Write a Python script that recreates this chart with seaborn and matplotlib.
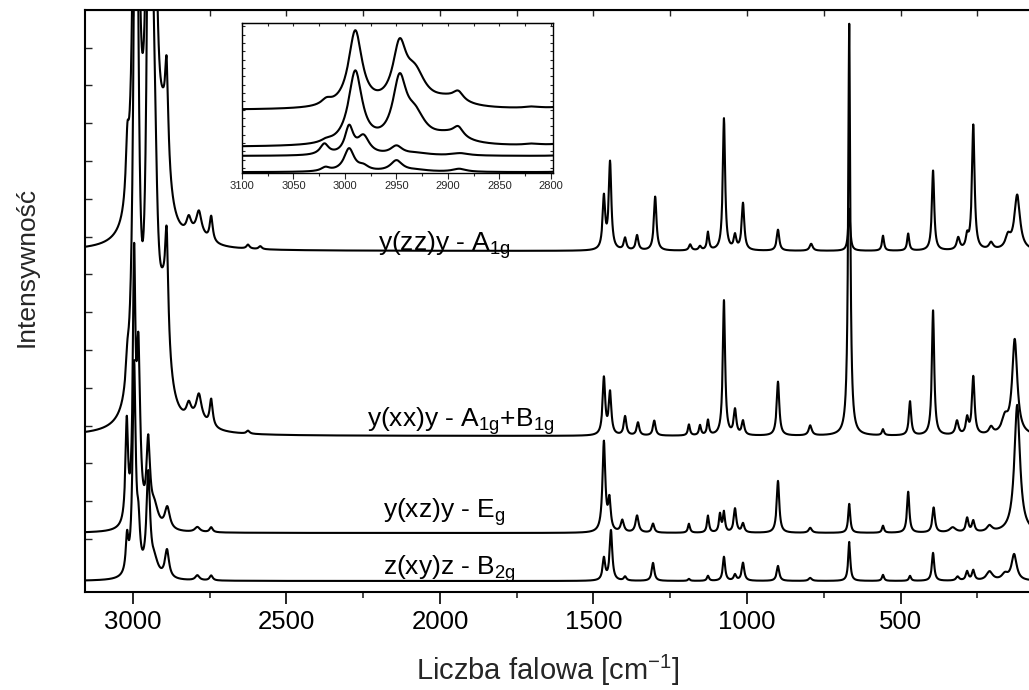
import numpy as np
import pandas as pd
import matplotlib
matplotlib.use("Agg")
import matplotlib.pyplot as plt
import seaborn as sns
from matplotlib.ticker import MultipleLocator, FixedLocator, NullFormatter

# ---------------- data ----------------
series_names = ["zz", "xx", "xz", "xy"]
series_labels = [r"y(zz)y - A$_{\mathrm{1g}}$",
                 r"y(xx)y - A$_{\mathrm{1g}}$+B$_{\mathrm{1g}}$",
                 r"y(xz)y - E$_{\mathrm{g}}$",
                 r"z(xy)z - B$_{\mathrm{2g}}$"]

# Raman bands: position [cm-1], height, half width
zz_pos = [3018, 2990, 2947, 2932, 2900, 2890, 2818, 2785, 2745, 2790, 2625, 2585,
          1466, 1446, 1397, 1358, 1299, 1185, 1153, 1127, 1075, 1039, 1013, 899, 791,
          667, 557, 475, 394, 312, 283, 263, 205, 150, 120]
zz_height = [55, 760, 560, 300, 80, 90, 15, 22, 25, 10, 4, 3,
             52, 87, 12, 15, 54, 6, 4, 18, 132, 14, 47, 21, 7,
             42, 15, 17, 80, 12, 12, 125, 7, 12, 55]
zz_width = [6, 8, 8, 12, 20, 6, 9, 10, 6, 40, 6, 6,
            5, 5, 5, 5, 5, 5, 5, 4, 4.5, 5, 5, 5, 6,
            4, 4, 4, 4.5, 6, 5, 5, 8, 10, 11]

xx_pos = [3018, 2990, 2947, 2932, 2900, 2890, 2818, 2785, 2745, 2790, 2625,
          1466, 1446, 1397, 1355, 1302, 1189, 1153, 1127, 1075, 1039, 1013, 899, 794,
          667, 557, 469, 394, 316, 283, 263, 205, 160, 128]
xx_height = [25, 730, 600, 250, 90, 100, 14, 24, 27, 10, 3,
             57, 42, 19, 13, 15, 11, 10, 15, 135, 25, 14, 54, 10,
             412, 6, 34, 125, 14, 16, 58, 7, 15, 95]
xx_width = [6, 8, 8, 12, 20, 6, 9, 10, 6, 40, 6,
            5, 5, 5, 5, 5, 4, 4, 4, 4.5, 5, 5, 5, 6,
            4, 4, 4.5, 4.5, 6, 5, 5, 8, 12, 10]

xz_pos = [3020, 2996, 2982, 2950, 2930, 2888, 2790, 2745,
          1466, 1448, 1406, 1358, 1306, 1189, 1127, 1088, 1075, 1039, 1013, 899, 794,
          667, 557, 475, 392, 330, 283, 263, 210, 120]
xz_height = [100, 250, 165, 80, 20, 22, 5, 5,
             90, 30, 12, 17, 9, 9, 17, 18, 20, 24, 9, 52, 5,
             29, 7, 41, 25, 5, 14, 11, 6, 128]
xz_width = [5, 5, 7, 7, 15, 10, 10, 6,
            5.5, 5, 6, 6, 5, 4, 4, 4, 4, 5, 5, 5, 6,
            4, 4, 4.5, 5, 12, 5, 5, 10, 11]

xy_pos = [3019, 2996, 2982, 2950, 2930, 2889, 2790, 2745,
          1466, 1443, 1397, 1306, 1189, 1127, 1075, 1039, 1013, 899, 794,
          667, 557, 469, 394, 314, 283, 263, 210, 160, 130]
xy_height = [35, 210, 40, 100, 15, 28, 5, 5,
             22, 50, 4, 18, 2, 5, 24, 6, 18, 15, 3,
             39, 6, 5, 28, 4, 9, 10, 9, 6, 26]
xy_width = [5, 6, 6, 7, 15, 8, 8, 6,
            5, 5, 5, 5, 4, 4, 4.5, 5, 5, 5, 6,
            4, 4, 4, 4.5, 6, 5, 5, 12, 12, 10]

main_offsets = [341, 156, 59, 11]
inset_offsets = [63, 26, 17, 0.8]
inset_scales = [0.100, 0.100, 0.108, 0.109]

xticks_main = [3000, 2500, 2000, 1500, 1000, 500]
xticks_inset = [3100, 3050, 3000, 2950, 2900, 2850, 2800]

# ---------------- build spectra ----------------
bands = {
    "zz": (zz_pos, zz_height, zz_width),
    "xx": (xx_pos, xx_height, xx_width),
    "xz": (xz_pos, xz_height, xz_width),
    "xy": (xy_pos, xy_height, xy_width),
}


def spectrum(x, pos, height, width):
    p = np.asarray(pos, float)[None, :]
    h = np.asarray(height, float)[None, :]
    w = np.asarray(width, float)[None, :]
    return (h / (1.0 + ((x[:, None] - p) / w) ** 2)).sum(axis=1)


x_main = np.arange(55.0, 3165.0, 0.5)
x_ins = np.arange(2790.0, 3110.0, 0.5)

frames, frames_in = [], []
for name, off, ioff, isc in zip(series_names, main_offsets, inset_offsets, inset_scales):
    pos, hei, wid = bands[name]
    frames.append(pd.DataFrame({"wn": x_main,
                                "I": spectrum(x_main, pos, hei, wid) + off,
                                "series": name}))
    frames_in.append(pd.DataFrame({"wn": x_ins,
                                   "I": spectrum(x_ins, pos, hei, wid) * isc + ioff,
                                   "series": name}))
df = pd.concat(frames, ignore_index=True)
df_in = pd.concat(frames_in, ignore_index=True)

# ---------------- style ----------------
sns.set_style("ticks")
plt.rcParams["font.family"] = ["Liberation Sans", "DejaVu Sans"]
plt.rcParams["mathtext.fontset"] = "custom"
plt.rcParams["mathtext.rm"] = "Liberation Sans"
plt.rcParams["mathtext.it"] = "Liberation Sans:italic"
plt.rcParams["mathtext.bf"] = "Liberation Sans:bold"

fig = plt.figure(figsize=(10.29, 6.90), dpi=100)
ax = fig.add_axes([85 / 1029, 98 / 690, 950 / 1029, 582 / 690])

sns.lineplot(data=df, x="wn", y="I", hue="series", palette=["black"] * 4,
             estimator=None, sort=False, legend=False, linewidth=1.5, ax=ax)

ax.set_xlim(3156, 62)
ax.set_ylim(0, 582)
for s in ax.spines.values():
    s.set_linewidth(1.5)
    s.set_color("black")

ax.xaxis.set_major_locator(FixedLocator(xticks_main))
ax.xaxis.set_minor_locator(MultipleLocator(250))
ax.tick_params(axis="x", which="major", direction="out", length=8.6, width=1.2,
               labelsize=18.5, pad=4.3, colors="black")
ax.tick_params(axis="x", which="minor", direction="out", length=4.3, width=1.2)
ax.yaxis.set_major_locator(FixedLocator(np.arange(53, 582, 37.8)))
ax.yaxis.set_major_formatter(NullFormatter())
ax.tick_params(axis="y", which="major", direction="in", length=5, width=1.0, left=True)

top = ax.secondary_xaxis("top")
top.xaxis.set_major_locator(MultipleLocator(250))
top.xaxis.set_major_formatter(NullFormatter())
top.tick_params(axis="x", direction="in", length=4, width=1.0)

ax.set_xlabel(r"Liczba falowa [cm$^{\mathrm{-1}}$]", fontsize=21)
ax.xaxis.set_label_coords(0.487, -0.105)
ax.set_ylabel("Intensywność", fontsize=19)
ax.yaxis.set_label_coords(-0.049, 0.558)

label_x = [2202, 2237, 2185, 2185]
label_y = [341, 165, 74, 17]
for lab, lx, ly in zip(series_labels, label_x, label_y):
    ax.text(lx, ly, lab, fontsize=19, ha="left", va="baseline", color="black")

# ---------------- inset ----------------
axi = fig.add_axes([242 / 1029, (690 - 173) / 690, 311 / 1029, 150 / 690])
axi.set_facecolor("white")
sns.lineplot(data=df_in, x="wn", y="I", hue="series", palette=["black"] * 4,
             estimator=None, sort=False, legend=False, linewidth=1.5, ax=axi)
axi.set_xlim(3100, 2798)
axi.set_ylim(0, 150)
axi.set_xlabel("")
axi.set_ylabel("")
for s in axi.spines.values():
    s.set_linewidth(1.0)
    s.set_color("black")
axi.xaxis.set_major_locator(FixedLocator(xticks_inset))
axi.xaxis.set_minor_locator(MultipleLocator(25))
axi.tick_params(axis="x", which="major", direction="out", length=4, width=0.8,
                labelsize=8, pad=2)
axi.tick_params(axis="x", which="minor", direction="out", length=2.5, width=0.8)
axi.yaxis.set_major_locator(FixedLocator(np.arange(5, 150, 8.33)))
axi.yaxis.set_major_formatter(NullFormatter())
axi.tick_params(axis="y", which="major", direction="in", length=2.5, width=0.8,
                left=True, right=True)
topi = axi.secondary_xaxis("top")
topi.xaxis.set_major_locator(MultipleLocator(25))
topi.xaxis.set_major_formatter(NullFormatter())
topi.tick_params(axis="x", direction="in", length=2.5, width=0.8)

fig.savefig("out.png", dpi=100)
